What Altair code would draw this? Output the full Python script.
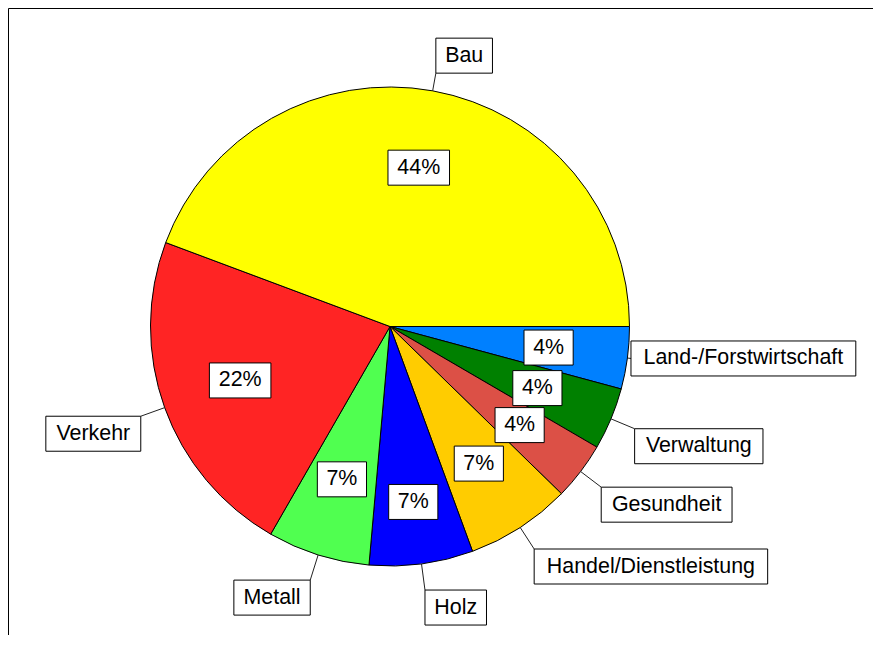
import math
import altair as alt
import pandas as pd

# ---------------- data ----------------
categories = ["Land-/Forstwirtschaft", "Verwaltung", "Gesundheit",
              "Handel/Dienstleistung", "Holz", "Metall", "Verkehr", "Bau"]
shares = [4.2, 4.2, 3.9, 7.1, 7.0, 6.9, 22.4, 44.3]
colors = ["#0080FF", "#008000", "#DC5046", "#FFCC00",
          "#0000FF", "#50FF50", "#FF2424", "#FFFF00"]
pct_labels = [f"{round(v)}%" for v in shares]

# ---------------- layout / style ----------------
W, H = 864, 626
R = 239.5                      # pie radius in px
CX, CY = 381.0, 317.5          # pie centre inside the plot area (px)
pct_r = [0.668, 0.667, 0.68, 0.682, 0.739, 0.669, 0.665, 0.674]
out_r = [1.015, 1.107, 1.108, 1.107, 1.11, 1.11, 1.106, 1.075]
FONT = "Liberation Sans"
FS = 21.4
BOX_FS = 21
BOX_H = 35

char_w = {'L': 556, 'a': 556, 'n': 556, 'd': 556, '-': 333, '/': 278, 'F': 611,
          'o': 556, 'r': 333, 's': 500, 't': 278, 'w': 722, 'i': 222, 'c': 500,
          'h': 556, 'f': 278, 'V': 667, 'e': 556, 'l': 222, 'u': 556, 'g': 556,
          'G': 778, 'H': 722, 'D': 722, 'z': 500, 'M': 833, 'k': 500, 'B': 667,
          '%': 889}


def text_w(s):
    return sum(char_w.get(ch, 556) for ch in s) / 1000 * BOX_FS


def box_w(s):
    return 1.06 * text_w(s) + 17


total = sum(shares)
arc_rows, pct_rows, out_rows, lead_rows = [], [], [], []
cum = 0.0
h = BOX_H / R
for i, (cat, v) in enumerate(zip(categories, shares)):
    phi = 2 * math.pi * (cum + v / 2) / total   # clockwise from 3 o'clock
    cum += v
    c, s = math.cos(phi), math.sin(phi)          # s > 0 : below centre
    arc_rows.append(dict(category=cat, share=v, idx=i, cx=0.0, cy=0.0))

    px, py = pct_r[i] * c, -pct_r[i] * s
    w = box_w(pct_labels[i]) / R
    pct_rows.append(dict(label=pct_labels[i], tx=px, ty=py,
                         x1=px - w / 2, x2=px + w / 2, y1=py - h / 2, y2=py + h / 2))

    ax, ay = out_r[i] * c, -out_r[i] * s
    w = box_w(cat) / R
    if c >= 0:
        bx1, bx2 = ax, ax + w
    else:
        bx1, bx2 = ax - w, ax
    if s > 0.3:
        by1, by2 = ay - h, ay
    elif s < -0.3:
        by1, by2 = ay, ay + h
    else:
        by1, by2 = ay - h / 2, ay + h / 2
    out_rows.append(dict(label=cat, tx=(bx1 + bx2) / 2, ty=(by1 + by2) / 2,
                         x1=bx1, x2=bx2, y1=by1, y2=by2))
    lead_rows.append(dict(x1=c, y1=-s, x2=ax, y2=ay))

df_arc = pd.DataFrame(arc_rows)
df_box = pd.DataFrame(pct_rows + out_rows)
df_lead = pd.DataFrame(lead_rows)

xs = alt.Scale(domain=[-CX / R, (W - CX) / R], nice=False, zero=False)
ys = alt.Scale(domain=[-(H - CY) / R, CY / R], nice=False, zero=False)

arc = alt.Chart(df_arc).mark_arc(outerRadius=R, stroke="black", strokeWidth=1).encode(
    theta=alt.Theta("share:Q", stack=True,
                    scale=alt.Scale(range=[math.pi / 2, math.pi / 2 + 2 * math.pi])),
    order=alt.Order("idx:Q"),
    color=alt.Color("category:N", scale=alt.Scale(domain=categories, range=colors), legend=None),
    x=alt.X("cx:Q", scale=xs, axis=None),
    y=alt.Y("cy:Q", scale=ys, axis=None),
)

leads = alt.Chart(df_lead).mark_rule(color="#222222", strokeWidth=1).encode(
    x=alt.X("x1:Q", scale=xs, axis=None),
    y=alt.Y("y1:Q", scale=ys, axis=None),
    x2="x2:Q",
    y2="y2:Q",
)

boxes = alt.Chart(df_box).mark_rect(fill="white", stroke="black", strokeWidth=1).encode(
    x=alt.X("x1:Q", scale=xs, axis=None),
    x2="x2:Q",
    y=alt.Y("y1:Q", scale=ys, axis=None),
    y2="y2:Q",
)

texts = alt.Chart(df_box).mark_text(font=FONT, fontSize=FS, color="black",
                                    align="center", baseline="middle").encode(
    x=alt.X("tx:Q", scale=xs, axis=None),
    y=alt.Y("ty:Q", scale=ys, axis=None),
    text="label:N",
)

frame_df = pd.DataFrame({"k": [0]})
frame_top = alt.Chart(frame_df).mark_rule(color="black", strokeWidth=1).encode(
    x=alt.value(-0.5), x2=alt.value(W), y=alt.value(-0.5), y2=alt.value(-0.5))
frame_left = alt.Chart(frame_df).mark_rule(color="black", strokeWidth=1).encode(
    x=alt.value(-0.5), x2=alt.value(-0.5), y=alt.value(-0.5), y2=alt.value(H))

chart = alt.layer(arc, leads, boxes, texts, frame_top, frame_left).properties(
    width=W, height=H,
    padding={"left": 1, "top": 1, "right": 0, "bottom": 0},
    autosize=alt.AutoSizeParams(type="none"),
).configure_view(stroke=None)

chart.save("out.html", embed_options={"renderer": "svg", "actions": False})
